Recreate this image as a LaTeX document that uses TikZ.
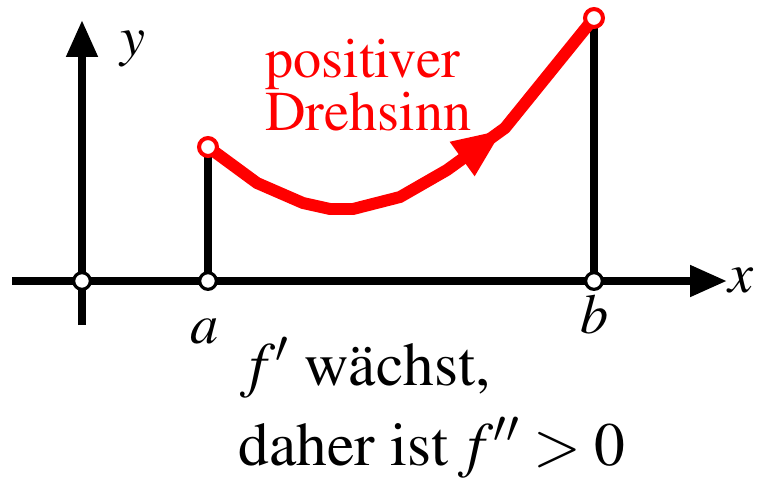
\documentclass[tikz,border=0pt]{standalone}
\usepackage[T1]{fontenc}
\usepackage{mathptmx}
\usetikzlibrary{
    arrows.meta,
    decorations.markings
}
\pgfdeclarelayer{bg}
\pgfsetlayers{bg,main}

\begin{document}
\begin{tikzpicture}[x=0.02cm, y=-0.02cm, >={Triangle[length=21pt, width=17pt]},
    axis/.style={line width=4.5pt, ->},
    stem/.style={line width=4pt},
    opendot/.style={circle, draw=black, line width=1.8pt, fill=white, inner sep=0pt, minimum size=9.5pt},
    reddot/.style={circle, draw=red, line width=2.3pt, fill=white, inner sep=0pt, minimum size=10.2pt},
    redcurve/.style={red, line width=6.8pt,
        postaction={decorate, decoration={markings,
            mark=at position 0.7 with {\arrow{Triangle[length=29pt, width=22pt]}}}}},
    lbl/.style={font=\fontsize{32}{32}\selectfont, inner sep=0pt},
    bigtext/.style={font=\fontsize{35}{35}\selectfont, inner sep=0pt},
    redtext/.style={font=\fontsize{32}{32}\selectfont, text=red, inner sep=0pt}]
    \useasboundingbox (0,0) rectangle (758,484);

    \coordinate (xs) at (12,281);
    \coordinate (xe) at (727,281);
    \coordinate (ys) at (82,325);
    \coordinate (ye) at (82,20);

    \node[opendot] (o) at (82,281) {};
    \node[opendot] (a) at (208,281) {};
    \node[opendot] (b) at (594,281) {};
    \node[reddot] (fa) at (208,147) {};
    \node[reddot] (fb) at (594,18) {};

    \begin{pgfonlayer}{bg}
        \draw[axis] (xs) -- (xe);
        \draw[axis] (ys) -- (ye);
        \draw[stem] (a.center) -- (fa.center);
        \draw[stem] (b.center) -- (fb.center);
        \draw[redcurve] (fa.center) -- (257,183) -- (303,203) -- (330,209)
            -- (353,209) -- (400,197) -- (447,170) -- (505,128) -- (fb.center);
    \end{pgfonlayer}

    \node[lbl, anchor=base west] (ylab) at (120,55) {$y$};
    \node[lbl, anchor=base west] (xlab) at (728,292) {$x$};
    \node[lbl, anchor=base] (alab) at (205,343) {$a$};
    \node[lbl, anchor=base] (blab) at (595,333) {$b$};

    \node[redtext, anchor=base west] (pos) at (265,77) {positiver};
    \node[redtext, anchor=base west] (dreh) at (265,130) {Drehsinn};

    \node[bigtext, anchor=base west] (line1) at (240,385) {$f'$ w\"achst,};
    \node[bigtext, anchor=base west] (line2) at (238,465) {daher ist\,$f''>0$};
\end{tikzpicture}
\end{document}
